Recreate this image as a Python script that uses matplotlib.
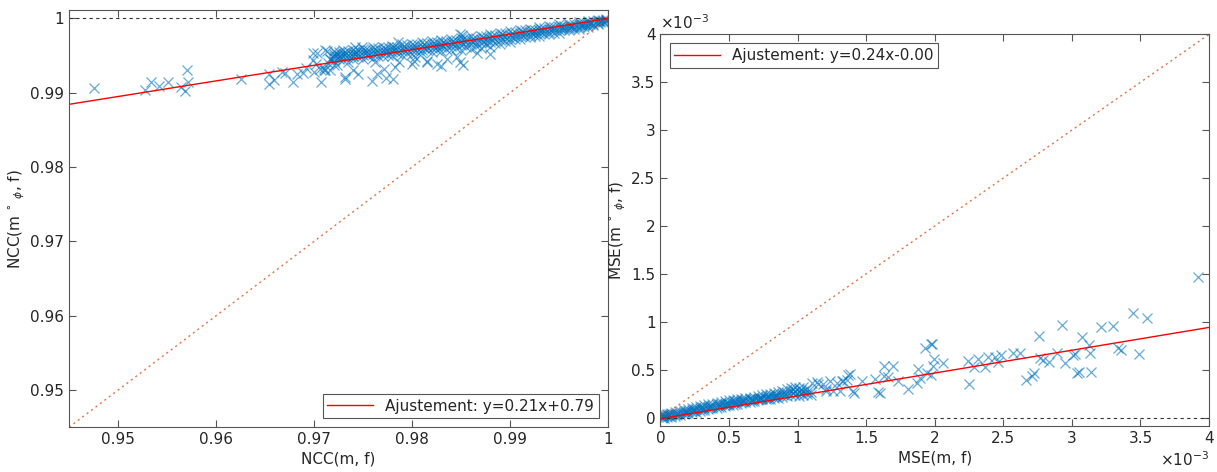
import matplotlib
matplotlib.use("Agg")
import matplotlib.pyplot as plt
from matplotlib.ticker import FuncFormatter

plt.rcParams["font.family"] = ["DejaVu Sans"]
plt.rcParams["mathtext.fontset"] = "dejavusans"

# ---------------- data: NCC panel ----------------
# dense band: (x, [y values])
ncc_band = [
    (0.9720, [0.9956, 0.9952, 0.9947, 0.9943]), (0.9725, [0.9955, 0.9950, 0.9946]),
    (0.9730, [0.9957, 0.9953, 0.9949, 0.9944]), (0.9735, [0.9956, 0.9951, 0.9947]),
    (0.9740, [0.9958, 0.9954, 0.9950, 0.9945]), (0.9745, [0.9957, 0.9952, 0.9948]),
    (0.9750, [0.9959, 0.9955, 0.9951, 0.9946]), (0.9755, [0.9958, 0.9953, 0.9949]),
    (0.9760, [0.9961, 0.9957, 0.9952, 0.9947]), (0.9765, [0.9960, 0.9955, 0.9950]),
    (0.9770, [0.9962, 0.9958, 0.9953, 0.9949]), (0.9775, [0.9961, 0.9956, 0.9951]),
    (0.9780, [0.9963, 0.9959, 0.9955, 0.9950]), (0.9785, [0.9962, 0.9957, 0.9953]),
    (0.9790, [0.9965, 0.9960, 0.9956, 0.9951]), (0.9795, [0.9964, 0.9959, 0.9954]),
    (0.9800, [0.9966, 0.9962, 0.9957, 0.9952]), (0.9805, [0.9965, 0.9960, 0.9955]),
    (0.9810, [0.9968, 0.9963, 0.9958, 0.9953]), (0.9815, [0.9967, 0.9962, 0.9957]),
    (0.9820, [0.9970, 0.9965, 0.9960, 0.9955]), (0.9825, [0.9968, 0.9963, 0.9958]),
    (0.9830, [0.9971, 0.9966, 0.9961, 0.9956]), (0.9835, [0.9970, 0.9965, 0.9959]),
    (0.9840, [0.9973, 0.9968, 0.9963, 0.9957]), (0.9845, [0.9971, 0.9966, 0.9960]),
    (0.9850, [0.9974, 0.9970, 0.9964, 0.9957]), (0.9855, [0.9973, 0.9968, 0.9961]),
    (0.9860, [0.9976, 0.9971, 0.9966, 0.9959]), (0.9865, [0.9974, 0.9969, 0.9963]),
    (0.9870, [0.9977, 0.9973, 0.9967, 0.9960]), (0.9875, [0.9976, 0.9971, 0.9965]),
    (0.9880, [0.9979, 0.9974, 0.9969, 0.9962]), (0.9885, [0.9978, 0.9973, 0.9967]),
    (0.9890, [0.9981, 0.9976, 0.9971, 0.9965]), (0.9895, [0.9980, 0.9975, 0.9970]),
    (0.9900, [0.9983, 0.9978, 0.9973, 0.9968]), (0.9905, [0.9982, 0.9977, 0.9973]),
    (0.9910, [0.9985, 0.9980, 0.9976, 0.9972]), (0.9915, [0.9984, 0.9979, 0.9975]),
    (0.9920, [0.9986, 0.9982, 0.9978, 0.9975]), (0.9925, [0.9985, 0.9981, 0.9977]),
    (0.9930, [0.9988, 0.9984, 0.9980, 0.9977]), (0.9935, [0.9987, 0.9983, 0.9979]),
    (0.9940, [0.9990, 0.9986, 0.9982, 0.9979]), (0.9945, [0.9989, 0.9985, 0.9981]),
    (0.9950, [0.9992, 0.9988, 0.9984, 0.9981]), (0.9955, [0.9990, 0.9987, 0.9984]),
    (0.9960, [0.9993, 0.9990, 0.9987, 0.9984]), (0.9965, [0.9992, 0.9989, 0.9986]),
    (0.9970, [0.9995, 0.9992, 0.9989, 0.9986]), (0.9975, [0.9994, 0.9991, 0.9988]),
    (0.9980, [0.9997, 0.9994, 0.9991, 0.9989]), (0.9985, [0.9996, 0.9993, 0.9991]),
    (0.9990, [0.9998, 0.9996, 0.9994, 0.9992]), (0.9995, [0.9998, 0.9997, 0.9995]),
    (0.9998, [0.9999, 0.9998, 0.9997, 0.9996]),
    (0.9722, [0.9954, 0.9949]), (0.9732, [0.9955, 0.9951]), (0.9742, [0.9956, 0.9952]),
    (0.9752, [0.9957, 0.9953]), (0.9762, [0.9959, 0.9954]), (0.9772, [0.9960, 0.9955]),
    (0.9782, [0.9961, 0.9957]), (0.9792, [0.9963, 0.9958]), (0.9802, [0.9964, 0.9959]),
    (0.9812, [0.9966, 0.9960]), (0.9822, [0.9967, 0.9962]), (0.9832, [0.9969, 0.9963]),
    (0.9842, [0.9970, 0.9965]), (0.9852, [0.9972, 0.9966]), (0.9862, [0.9973, 0.9968]),
    (0.9872, [0.9975, 0.9969]), (0.9882, [0.9977, 0.9971]), (0.9892, [0.9979, 0.9973]),
    (0.9902, [0.9981, 0.9975]), (0.9912, [0.9983, 0.9978]), (0.9922, [0.9984, 0.9980]),
    (0.9932, [0.9986, 0.9982]), (0.9942, [0.9988, 0.9984]), (0.9952, [0.9990, 0.9986]),
    (0.9962, [0.9991, 0.9988]), (0.9972, [0.9993, 0.9990]), (0.9982, [0.9995, 0.9992]),
    (0.9992, [0.9997, 0.9995]),
]
# scattered points
ncc_x = [0.9476, 0.9528, 0.9534, 0.9542, 0.9551, 0.9564, 0.9568, 0.9571, 0.9570,
         0.9626, 0.9654, 0.9654, 0.9659, 0.9667, 0.9670, 0.9679, 0.9683, 0.9689,
         0.9692, 0.9699, 0.9700, 0.9702, 0.9703, 0.9707, 0.9711, 0.9713, 0.9716,
         0.9720, 0.9710, 0.9714, 0.9716, 0.9727, 0.9732, 0.9720, 0.9740, 0.9710,
         0.9706, 0.9723, 0.9735, 0.9742, 0.9749, 0.9699, 0.9711, 0.9716, 0.9745,
         0.9740, 0.9732, 0.9759, 0.9764, 0.9771, 0.9773, 0.9781, 0.9786, 0.9787,
         0.9802, 0.9803, 0.9815, 0.9815, 0.9825, 0.9836, 0.9846, 0.9849, 0.9852,
         0.9800, 0.9830, 0.9851, 0.9866, 0.9880, 0.9849, 0.9762, 0.9783]
ncc_y = [0.9907, 0.9904, 0.9914, 0.9909, 0.9914, 0.9908, 0.9903, 0.9914, 0.9930,
         0.9918, 0.9925, 0.9912, 0.9917, 0.9928, 0.9926, 0.9915, 0.9925, 0.9926,
         0.9933, 0.9944, 0.9928, 0.9939, 0.9954, 0.9914, 0.9931, 0.9956, 0.9946,
         0.9950, 0.9934, 0.9940, 0.9930, 0.9950, 0.9921, 0.9937, 0.9930, 0.9930,
         0.9932, 0.9937, 0.9941, 0.9961, 0.9961, 0.9954, 0.9957, 0.9946, 0.9925,
         0.9950, 0.9919, 0.9916, 0.9925, 0.9932, 0.9920, 0.9919, 0.9968, 0.9941,
         0.9943, 0.9948, 0.9943, 0.9941, 0.9939, 0.9946, 0.9948, 0.9941, 0.9937,
         0.9939, 0.9936, 0.9978, 0.9954, 0.9952, 0.9979, 0.9941, 0.9935]
ncc_fit = (0.21, 0.79)
ncc_ticks = [0.95, 0.96, 0.97, 0.98, 0.99, 1.0]

# ---------------- data: MSE panel (units of 1e-3) ----------------
mse_band = [
    (0.01, [0.00, 0.02, 0.04]), (0.03, [0.00, 0.02, 0.04]), (0.05, [0.01, 0.03, 0.04]),
    (0.08, [0.01, 0.03, 0.05]), (0.11, [0.02, 0.04, 0.06]), (0.14, [0.03, 0.05, 0.07]),
    (0.17, [0.04, 0.06, 0.08]), (0.20, [0.05, 0.07, 0.09]), (0.23, [0.06, 0.08, 0.10]),
    (0.26, [0.06, 0.09, 0.11]), (0.29, [0.07, 0.10, 0.12]), (0.32, [0.08, 0.10, 0.13]),
    (0.35, [0.09, 0.11, 0.14]), (0.38, [0.10, 0.12, 0.14]), (0.41, [0.10, 0.13, 0.15]),
    (0.44, [0.11, 0.14, 0.16]), (0.47, [0.12, 0.14, 0.17]), (0.50, [0.13, 0.15, 0.18]),
    (0.53, [0.13, 0.16, 0.18]), (0.56, [0.14, 0.17, 0.19]), (0.59, [0.15, 0.17, 0.20]),
    (0.62, [0.16, 0.18, 0.21]), (0.65, [0.16, 0.19, 0.21]), (0.68, [0.17, 0.20, 0.22]),
    (0.71, [0.18, 0.20, 0.23]), (0.74, [0.19, 0.21, 0.24]), (0.77, [0.19, 0.22, 0.25]),
    (0.80, [0.20, 0.23, 0.25]), (0.83, [0.21, 0.23, 0.26]), (0.86, [0.21, 0.24, 0.27]),
    (0.89, [0.22, 0.25, 0.28]), (0.92, [0.23, 0.26, 0.30]), (0.95, [0.24, 0.28, 0.31]),
    (0.98, [0.24, 0.28, 0.32]), (1.01, [0.23, 0.27, 0.31]), (1.04, [0.24, 0.28, 0.32]),
    (1.07, [0.25, 0.27, 0.30]), (1.10, [0.24, 0.27]),
    (0.02, [0.01, 0.03]), (0.065, [0.02, 0.04]), (0.125, [0.03, 0.05]), (0.185, [0.05, 0.07]),
    (0.245, [0.07, 0.09]), (0.305, [0.08, 0.11]), (0.365, [0.10, 0.12]), (0.425, [0.11, 0.14]),
    (0.485, [0.13, 0.15]), (0.545, [0.14, 0.17]), (0.605, [0.16, 0.18]), (0.665, [0.17, 0.20]),
    (0.725, [0.19, 0.21]), (0.785, [0.20, 0.23]), (0.845, [0.22, 0.24]), (0.905, [0.24, 0.27]),
    (0.965, [0.26, 0.30]), (1.025, [0.26, 0.29]),
]
mse_x = [3.921, 3.443, 3.545, 3.210, 3.302, 2.925, 2.763, 3.076, 3.122, 3.132,
         3.338, 3.356, 3.491, 3.023, 3.010, 2.948, 2.894, 3.039, 3.050, 3.137,
         2.765, 2.792, 2.835, 2.663, 2.711, 2.724, 2.250, 2.243, 2.287, 2.318,
         2.367, 2.386, 2.440, 2.464, 2.481, 2.568, 2.622, 1.978, 1.995, 1.985,
         1.971, 2.063, 1.929, 1.971, 1.881, 1.942, 1.891, 1.873, 1.803, 1.735,
         1.630, 1.698, 1.630, 1.662, 1.601, 1.590, 1.565, 1.468, 1.370, 1.360,
         1.322, 1.290, 1.261, 1.407, 1.188, 1.210, 1.150, 1.103, 1.140, 1.237,
         1.335, 1.380, 1.310, 1.410, 1.210]
mse_y = [1.472, 1.092, 1.043, 0.949, 0.956, 0.966, 0.851, 0.844, 0.760, 0.680,
         0.732, 0.705, 0.663, 0.663, 0.650, 0.569, 0.670, 0.471, 0.480, 0.481,
         0.621, 0.600, 0.586, 0.398, 0.433, 0.468, 0.349, 0.590, 0.527, 0.617,
         0.533, 0.628, 0.638, 0.580, 0.653, 0.680, 0.674, 0.768, 0.617, 0.541,
         0.447, 0.575, 0.732, 0.768, 0.506, 0.471, 0.418, 0.366, 0.297, 0.384,
         0.541, 0.538, 0.436, 0.426, 0.255, 0.270, 0.408, 0.384, 0.447, 0.390,
         0.384, 0.360, 0.279, 0.279, 0.349, 0.280, 0.350, 0.366, 0.370, 0.384,
         0.384, 0.460, 0.279, 0.260, 0.300]
mse_fit = (0.238, -0.01)
mse_ticks = [0, 0.5, 1, 1.5, 2, 2.5, 3, 3.5, 4]

# ---------------- styling ----------------
col_pts = "#0072BD"
col_ident = "#D95319"
col_text = "#262626"
col_axis = "#555555"
fmt = FuncFormatter(lambda v, p: "%g" % v)
mk = dict(marker="x", color=col_pts, ms=7, mew=0.9, alpha=0.6, ls="none")


def expand(band):
    xs, ys = [], []
    for x, yl in band:
        for y in yl:
            xs.append(x)
            ys.append(y)
    return xs, ys


def style_ax(ax):
    for sp in ax.spines.values():
        sp.set_color(col_axis)
        sp.set_linewidth(0.8)
    ax.tick_params(direction="in", length=5, width=0.8, colors=col_axis,
                   labelcolor=col_text, labelsize=11, top=True, right=True)
    ax.xaxis.set_major_formatter(fmt)
    ax.yaxis.set_major_formatter(fmt)


def add_legend(ax, loc):
    leg = ax.legend(loc=loc, fontsize=11, fancybox=False, framealpha=1,
                    edgecolor=col_axis, handlelength=3, borderpad=0.3, borderaxespad=0.6)
    leg.get_frame().set_linewidth(0.8)
    for t in leg.get_texts():
        t.set_color(col_text)


fig = plt.figure(figsize=(12.17, 4.72), dpi=100)
ax1 = fig.add_axes([0.0567, 0.0947, 0.4429, 0.8835])
ax2 = fig.add_axes([0.5426, 0.0968, 0.4509, 0.8305])

# ─ NCC ─
bx, by = expand(ncc_band)
lo1, hi1 = 0.945, 1.0
ax1.plot(bx, by, **mk)
ax1.plot(ncc_x, ncc_y, **mk)
ax1.axhline(1.0, color="#333333", ls=(0, (3, 3)), lw=0.8)
ax1.plot([lo1, hi1], [lo1, hi1], color=col_ident, ls=(0, (1.5, 2.5)), lw=1.0, alpha=0.8)
ax1.plot([lo1, hi1], [ncc_fit[0] * lo1 + ncc_fit[1], ncc_fit[0] * hi1 + ncc_fit[1]],
         color="red", lw=1.0, label="Ajustement: y=%.2fx+%.2f" % ncc_fit)
ax1.set_xlim(lo1, hi1)
ax1.set_ylim(0.945, 1.0011)
ax1.set_xticks(ncc_ticks)
ax1.set_yticks(ncc_ticks)
style_ax(ax1)
ax1.set_xlabel("NCC(m, f)", fontsize=11, color=col_text, labelpad=3)
ax1.set_ylabel(r"NCC(m $^{\circ}$ $_{\phi}$, f)", fontsize=11, color=col_text, labelpad=2)
add_legend(ax1, "lower right")

# ─ MSE ─
mx, my = expand(mse_band)
lo2, hi2 = 0.0, 4.0
ax2.plot(mx, my, **mk)
ax2.plot(mse_x, mse_y, **mk)
ax2.axhline(0.0, color="#333333", ls=(0, (3, 3)), lw=0.8)
ax2.plot([lo2, hi2], [lo2, hi2], color=col_ident, ls=(0, (1.5, 2.5)), lw=1.0, alpha=0.8)
ax2.plot([lo2, hi2], [mse_fit[0] * lo2 + mse_fit[1], mse_fit[0] * hi2 + mse_fit[1]],
         color="red", lw=1.0, label="Ajustement: y=0.24x-0.00")
ax2.set_xlim(lo2, hi2)
ax2.set_ylim(-0.09, 4.0)
ax2.set_xticks(mse_ticks)
ax2.set_yticks(mse_ticks)
style_ax(ax2)
ax2.set_xlabel("MSE(m, f)", fontsize=11, color=col_text, labelpad=3)
ax2.set_ylabel(r"MSE(m $^{\circ}$ $_{\phi}$, f)", fontsize=11, color=col_text, labelpad=2)
ax2.text(0.0, 1.005, r"$\times10^{-3}$", transform=ax2.transAxes, ha="left", va="bottom",
         fontsize=11, color=col_text)
ax2.text(1.0, -0.085, r"$\times10^{-3}$", transform=ax2.transAxes, ha="right", va="center",
         fontsize=11, color=col_text)
add_legend(ax2, "upper left")

plt.savefig("out.png", dpi=100, facecolor="white")
